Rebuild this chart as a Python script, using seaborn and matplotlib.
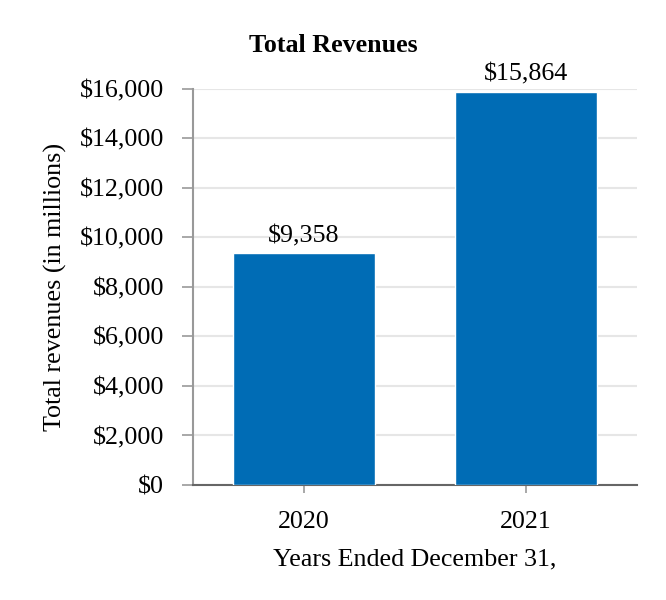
import pandas as pd
import seaborn as sns
import matplotlib.pyplot as plt

# chart data
years = ['2020', '2021']
revenues = [9358, 15864]
y_ticks = [0, 2000, 4000, 6000, 8000, 10000, 12000, 14000, 16000]

df = pd.DataFrame({'year': years, 'revenue': revenues})

sns.set_theme(style='white')
plt.rcParams['font.family'] = ['Liberation Serif', 'DejaVu Serif']
FS = 18.7

fig = plt.figure(figsize=(6.66, 6), dpi=100)
ax = fig.add_axes([0.29, 0.1917, 0.666, 0.6603])

sns.barplot(data=df, x='year', y='revenue', color='#006cb5', saturation=1,
            width=0.64, ax=ax, zorder=3)

ax.set_xlim(-0.5, 1.5)
ax.set_ylim(0, 16000)
ax.set_yticks(y_ticks)
ax.set_yticklabels([f'${v:,}' for v in y_ticks])
ax.yaxis.grid(True, color='#e6e6e6', linewidth=1.5, zorder=0)
ax.set_axisbelow(True)

for i, v in enumerate(revenues):
    ax.annotate(f'${v:,}', (i, v), xytext=(0, 4.5), textcoords='offset points',
                ha='center', va='bottom', fontsize=FS, color='black')

ax.tick_params(axis='y', length=8, width=1.2, color='#999999', labelsize=FS,
               labelcolor='black', left=True, pad=13)
ax.tick_params(axis='x', length=6, width=1.2, color='#999999', labelsize=FS,
               labelcolor='black', bottom=True, pad=13)

for s in ['top', 'right']:
    ax.spines[s].set_visible(False)
ax.spines['left'].set_color('#999999')
ax.spines['left'].set_linewidth(1.5)
ax.spines['bottom'].set_color('#666666')
ax.spines['bottom'].set_linewidth(1.5)

ax.set_xlabel('Years Ended December 31,', fontsize=FS, color='black', labelpad=11)
ax.set_ylabel('Total revenues (in millions)', fontsize=FS, color='black', labelpad=9)
fig.text(0.5, 0.925, 'Total Revenues', ha='center', va='center', fontsize=FS,
         fontweight='bold', color='black')

fig.savefig('out.png', dpi=100)
